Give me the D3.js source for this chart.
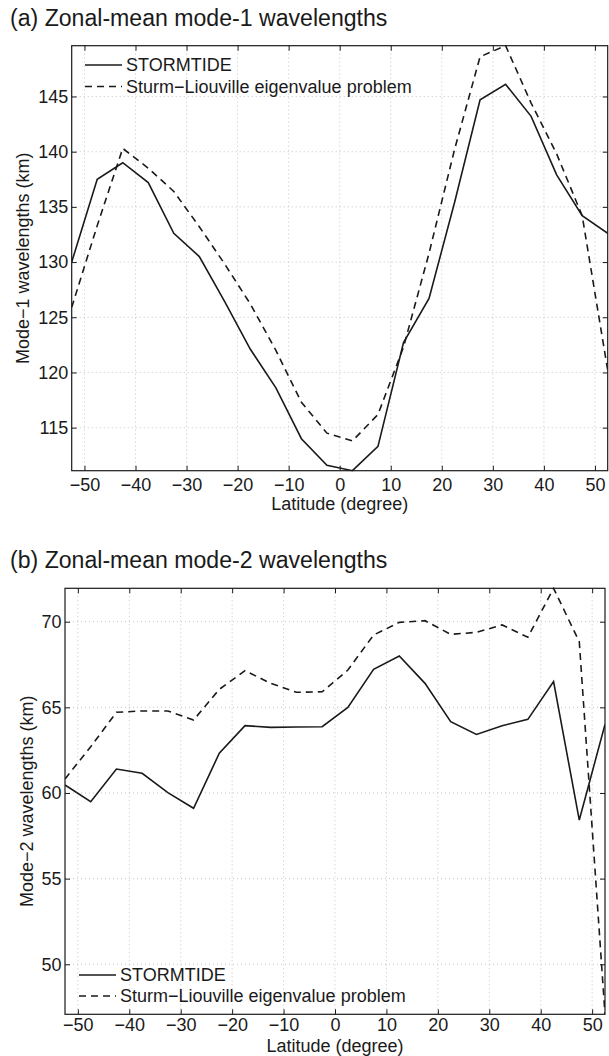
<!DOCTYPE html>
<html>
<head>
<meta charset="utf-8">
<script src="https://cdn.jsdelivr.net/npm/d3@7"></script>
<style>
  html, body { margin: 0; padding: 0; background: #fff; }
  svg { display: block; }
  text { font-family: "Liberation Sans", Arial, Helvetica, sans-serif; fill: #1a1a1a; }
</style>
</head>
<body>
<svg id="chart" width="609" height="1056"></svg>
<script>
// ---------------- data ----------------
const latitudes = [-52.5, -47.5, -42.5, -37.5, -32.5, -27.5, -22.5, -17.5, -12.5, -7.5, -2.5,
                   2.5, 7.5, 12.5, 17.5, 22.5, 27.5, 32.5, 37.5, 42.5, 47.5, 52.5];
const xTicks = [-50, -40, -30, -20, -10, 0, 10, 20, 30, 40, 50];

// panel (a) mode-1
const mode1Stormtide = [130.0, 137.5, 139.0, 137.2, 132.6, 130.5, 126.4, 122.1, 118.6, 114.0, 111.6,
                        111.1, 113.3, 122.7, 126.7, 135.4, 144.7, 146.1, 143.2, 137.9, 134.2, 132.6];
const mode1SturmLiouville = [125.9, 133.3, 140.3, 138.5, 136.4, 133.2, 129.8, 126.2, 122.0, 117.3, 114.5,
                             113.8, 116.2, 122.3, 130.8, 140.2, 148.6, 149.6, 144.4, 139.8, 134.2, 120.2];
const mode1YTicks = [115, 120, 125, 130, 135, 140, 145];

// panel (b) mode-2
const mode2Stormtide = [60.47, 59.49, 61.40, 61.15, 60.02, 59.11, 62.32, 63.93, 63.83, 63.85, 63.87,
                        65.00, 67.22, 68.00, 66.40, 64.16, 63.42, 63.93, 64.30, 66.50, 58.42, 64.0];
const mode2SturmLiouville = [60.82, 62.70, 64.71, 64.79, 64.79, 64.26, 66.05, 67.14, 66.40, 65.88, 65.91,
                             67.18, 69.22, 69.96, 70.06, 69.26, 69.38, 69.81, 69.09, 71.95, 68.83, 47.08];
const mode2YTicks = [50, 55, 60, 65, 70];

const seriesNames = ["STORMTIDE", "Sturm\u2212Liouville eigenvalue problem"];
const titles = ["(a) Zonal-mean mode-1 wavelengths", "(b) Zonal-mean mode-2 wavelengths"];
const yLabels = ["Mode\u22121 wavelengths (km)", "Mode\u22122 wavelengths (km)"];
const xLabel = "Latitude (degree)";

// ---------------- layout ----------------
const svg = d3.select("#chart");
svg.append("rect").attr("width", 609).attr("height", 1056).attr("fill", "#fff");

const panels = [
  { box: { l: 71.7, r: 607.7, t: 45.7, b: 470.7 }, s1: mode1Stormtide, s2: mode1SturmLiouville,
    yTicks: mode1YTicks, title: titles[0], yLabel: yLabels[0], yLabelX: 23, xLabelDy: 39, xPad: 7.5,
    legend: { x0: 85, x1: 122, y1: 65, y2: 86.5 } },
  { box: { l: 65, r: 605, t: 588.3, b: 1014.3 }, s1: mode2Stormtide, s2: mode2SturmLiouville,
    yTicks: mode2YTicks, title: titles[1], yLabel: yLabels[1], yLabelX: 26.5, xLabelDy: 37.5, xPad: 4,
    legend: { x0: 79, x1: 116, y1: 975, y2: 996 } }
];

const fmt = d => (d < 0 ? "\u2212" + Math.abs(d) : String(d));

panels.forEach((p, i) => {
  const B = p.box;
  const x = d3.scaleLinear().domain(d3.extent(latitudes)).range([B.l, B.r]);
  const yExt = d3.extent(p.s1.concat(p.s2));
  const y = d3.scaleLinear().domain(yExt).range([B.b, B.t]);
  const g = svg.append("g");

  // title
  g.append("text").attr("x", 10).attr("y", B.t - 20).attr("font-size", 23.1).text(p.title);

  // grid
  const grid = g.append("g").attr("stroke", "#b8b8b8").attr("stroke-width", 0.8)
    .attr("stroke-dasharray", "1,3");
  xTicks.forEach(t => grid.append("line").attr("x1", x(t)).attr("x2", x(t))
    .attr("y1", B.t).attr("y2", B.b));
  p.yTicks.forEach(t => grid.append("line").attr("x1", B.l).attr("x2", B.r)
    .attr("y1", y(t)).attr("y2", y(t)));

  // axes via d3 axis (ticks inward)
  const tickLen = 5;
  const axB = d3.axisBottom(x).tickValues(xTicks).tickSize(-tickLen).tickPadding(p.xPad).tickFormat(fmt);
  const axT = d3.axisTop(x).tickValues(xTicks).tickSize(-tickLen).tickFormat("");
  const axL = d3.axisLeft(y).tickValues(p.yTicks).tickSize(-tickLen).tickPadding(3.5).tickFormat(fmt);
  const axR = d3.axisRight(y).tickValues(p.yTicks).tickSize(-tickLen).tickFormat("");
  const styleAx = sel => {
    sel.select(".domain").remove();
    sel.selectAll(".tick line").attr("stroke", "#1a1a1a").attr("stroke-width", 1);
    sel.selectAll(".tick text").attr("font-size", 18).attr("fill", "#1a1a1a")
      .attr("font-family", "Liberation Sans, Arial, sans-serif");
  };
  g.append("g").attr("transform", `translate(0,${B.b})`).call(axB).call(styleAx);
  g.append("g").attr("transform", `translate(0,${B.t})`).call(axT).call(styleAx);
  g.append("g").attr("transform", `translate(${B.l},0)`).call(axL).call(styleAx);
  g.append("g").attr("transform", `translate(${B.r},0)`).call(axR).call(styleAx);

  // clip
  const clipId = "clip" + i;
  svg.append("clipPath").attr("id", clipId).append("rect")
    .attr("x", B.l).attr("y", B.t - 1).attr("width", B.r - B.l).attr("height", B.b - B.t + 2);

  const line = d3.line().x((d, k) => x(latitudes[k])).y(d => y(d));
  const lines = g.append("g").attr("clip-path", `url(#${clipId})`);
  lines.append("path").attr("d", line(p.s1)).attr("fill", "none")
    .attr("stroke", "#1a1a1a").attr("stroke-width", 1.6).attr("stroke-linejoin", "miter");
  lines.append("path").attr("d", line(p.s2)).attr("fill", "none")
    .attr("stroke", "#1a1a1a").attr("stroke-width", 1.6).attr("stroke-dasharray", "7,5");

  // box
  g.append("rect").attr("x", B.l).attr("y", B.t).attr("width", B.r - B.l).attr("height", B.b - B.t)
    .attr("fill", "none").attr("stroke", "#1a1a1a").attr("stroke-width", 1.2);

  // labels
  g.append("text").attr("x", (B.l + B.r) / 2).attr("y", B.b + p.xLabelDy).attr("text-anchor", "middle")
    .attr("font-size", 18).text(xLabel);
  g.append("text").attr("transform", `translate(${p.yLabelX},${(B.t + B.b) / 2}) rotate(-90)`)
    .attr("text-anchor", "middle").attr("dominant-baseline", "central").attr("font-size", 18).text(p.yLabel);

  // legend
  const L = p.legend;
  g.append("line").attr("x1", L.x0).attr("x2", L.x1).attr("y1", L.y1).attr("y2", L.y1)
    .attr("stroke", "#1a1a1a").attr("stroke-width", 1.6);
  g.append("line").attr("x1", L.x0).attr("x2", L.x1).attr("y1", L.y2).attr("y2", L.y2)
    .attr("stroke", "#1a1a1a").attr("stroke-width", 1.6).attr("stroke-dasharray", "7,5");
  g.append("text").attr("x", L.x1 + 4).attr("y", L.y1).attr("dominant-baseline", "central")
    .attr("font-size", 18).text(seriesNames[0]);
  g.append("text").attr("x", L.x1 + 4).attr("y", L.y2).attr("dominant-baseline", "central")
    .attr("font-size", 18).text(seriesNames[1]);
});
</script>
</body>
</html>
